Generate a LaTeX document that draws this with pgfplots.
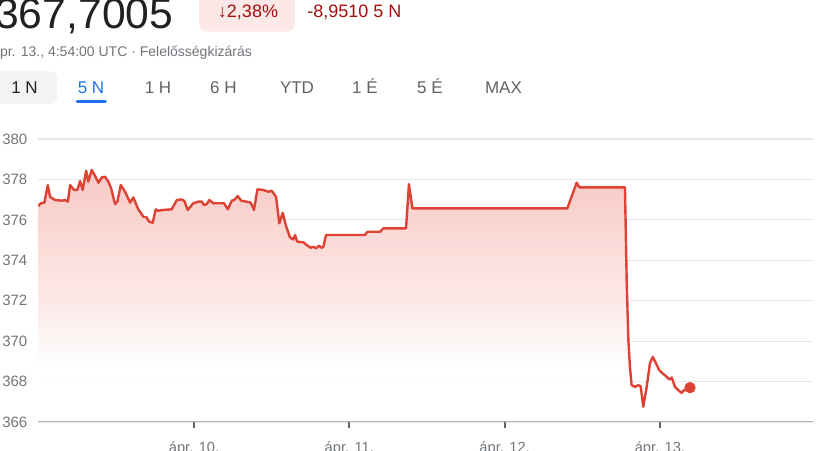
\documentclass[border=0pt]{standalone}
\usepackage{fontspec}
\setmainfont{Liberation Sans}
\usepackage{pgfplots}
\usepackage{pgfplotstable}
\pgfplotsset{compat=1.18}
\definecolor{linered}{RGB}{222,66,52}
\definecolor{filltop}{RGB}{245,190,185}
\definecolor{fillup}{RGB}{249,207,203}
\definecolor{fillmid}{RGB}{251,229,227}
\definecolor{txtgray}{RGB}{95,99,104}
\definecolor{lblgray}{RGB}{112,117,122}
\definecolor{gridgray}{RGB}{232,232,232}
\definecolor{axgray}{RGB}{180,180,180}
\definecolor{tickgray}{RGB}{100,100,100}
\definecolor{badgebg}{RGB}{252,232,230}
\definecolor{negred}{RGB}{165,14,14}
\definecolor{tabbg}{RGB}{241,243,244}
\definecolor{gblue}{RGB}{26,115,232}
\definecolor{bigtxt}{RGB}{32,33,36}
\pgfdeclareverticalshading{redfade}{100bp}{color(0bp)=(white); color(36bp)=(white); color(49bp)=(fillmid); color(65bp)=(fillup); color(75bp)=(filltop); color(100bp)=(filltop)}

\pgfplotstableread{
d v
8.997 376.68
9.013 376.82
9.036 376.85
9.058 377.72
9.073 377.14
9.105 376.98
9.148 376.95
9.169 376.98
9.187 376.90
9.202 377.72
9.227 377.48
9.249 377.48
9.266 377.92
9.283 377.48
9.305 378.43
9.319 377.89
9.341 378.47
9.363 378.17
9.384 377.84
9.406 378.10
9.427 378.13
9.448 377.89
9.466 377.56
9.491 376.78
9.506 376.90
9.528 377.72
9.556 377.39
9.588 376.85
9.609 377.11
9.641 376.52
9.674 376.15
9.695 376.12
9.710 375.91
9.734 375.86
9.753 376.52
9.770 376.45
9.802 376.49
9.856 376.52
9.889 376.98
9.921 377.01
9.938 376.93
9.959 376.49
9.995 376.82
10.028 376.90
10.050 376.90
10.064 376.73
10.082 376.78
10.099 376.98
10.124 376.82
10.193 376.82
10.217 376.52
10.243 376.95
10.259 376.98
10.281 377.18
10.303 376.95
10.339 376.90
10.365 376.85
10.386 376.49
10.408 377.51
10.446 377.48
10.478 377.39
10.500 377.44
10.528 377.14
10.549 375.83
10.571 376.35
10.592 375.70
10.618 375.13
10.639 375.03
10.650 375.25
10.665 374.92
10.704 374.89
10.726 374.75
10.751 374.62
10.768 374.67
10.786 374.59
10.803 374.72
10.822 374.62
10.833 374.67
10.850 375.25
11.101 375.25
11.116 375.41
11.198 375.41
11.219 375.58
11.365 375.58
11.384 377.77
11.406 376.57
12.404 376.57
12.464 377.84
12.481 377.61
12.775 377.61
12.786 373.02
12.797 370.05
12.807 368.73
12.818 367.82
12.840 367.74
12.861 367.82
12.876 367.77
12.893 366.75
12.915 367.74
12.936 368.90
12.954 369.22
12.975 368.90
12.996 368.56
13.018 368.40
13.039 368.27
13.061 368.10
13.076 368.20
13.097 367.74
13.119 367.57
13.140 367.44
13.155 367.57
13.176 367.61
13.194 367.70
}\pricedata

\begin{document}
\begin{tikzpicture}
\path[use as bounding box] (0,0) rectangle (618.75pt,337.5pt);
% header
\node[anchor=base west, inner sep=0pt, font=\fontsize{32}{34}\selectfont, text=bigtxt] at (-3.75pt,316.3pt) {367,7005};
\fill[badgebg, rounded corners=6pt] (149.25pt,313.7pt) rectangle (221.25pt,345pt);
\node[anchor=base, inner sep=0pt, font=\fontsize{13.5}{15}\selectfont, text=negred] at (186pt,324pt) {↓2,38\%};
\node[anchor=base west, inner sep=0pt, font=\fontsize{13.5}{15}\selectfont, text=negred] at (230.25pt,324pt) {-8,9510 5 N};
\node[anchor=base west, inner sep=0pt, font=\fontsize{10.5}{12}\selectfont, text=lblgray] at (-6pt,294.75pt) {ápr. 13., 4:54:00 UTC · Felelősségkizárás};
% tabs
\fill[tabbg, rounded corners=4pt] (-6pt,259.5pt) rectangle (42.75pt,284pt);
\draw[gblue, line width=2.5pt, line cap=round] (58pt,261.4pt) -- (79pt,261.4pt);
\foreach \x/\t/\c in {18.4/1 N/bigtxt,68.25/5 N/gblue,118.5/1 H/txtgray,167.6/6 H/txtgray,222.75/YTD/txtgray,273.75/1 É/txtgray,322.5/5 É/txtgray,377.6/MAX/txtgray}
  \node[anchor=base, inner sep=0pt, font=\fontsize{12.75}{14}\selectfont, text=\c] at (\x pt,267pt) {\t};
\begin{axis}[
  at={(28.5pt,21pt)}, anchor=south west,
  scale only axis, width=581.25pt, height=212.25pt,
  xmin=8.995, xmax=13.986, ymin=366, ymax=380,
  axis line style={draw=none},
  ytick={366,368,...,380},
  ymajorgrids, grid style={gridgray, line width=0.8pt},
  ytick style={draw=none},
  xtick={10,11,12,13},
  xticklabels={ápr. 10.,ápr. 11.,ápr. 12.,ápr. 13.},
  xtick pos=bottom, ytick pos=left,
  xtick style={draw=tickgray, line width=1.5pt},
  tick align=outside, major tick length=4.5pt,
  /pgf/number format/assume math mode=true,
  /pgf/number format/1000 sep={},
  yticklabel style={font=\fontsize{11.25}{12}\selectfont, text=lblgray, anchor=east, xshift=0pt},
  xticklabel style={font=\fontsize{11}{12}\selectfont, text=lblgray, anchor=north, yshift=-6.5pt},
]
\addplot[draw=none, shade, shading=redfade, fill opacity=0.85] table[x=d,y=v]{\pricedata} \closedcycle;
\draw[axgray, line width=1pt] (rel axis cs:0,0) -- (rel axis cs:1,0);
\addplot[linered, line width=1.8pt, line join=round] table[x=d,y=v]{\pricedata};
\addplot[only marks, mark=*, mark size=4pt, mark options={fill=linered, draw=linered}] coordinates {(13.194,367.70)};
\end{axis}
\end{tikzpicture}
\end{document}
